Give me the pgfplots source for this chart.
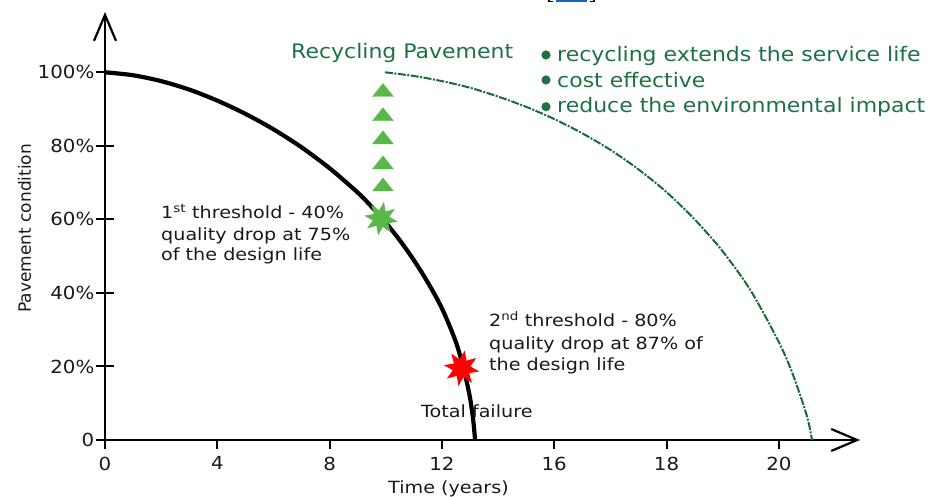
\documentclass[border=0pt]{standalone}
\usepackage{pgfplots}
\pgfplotsset{compat=1.18}
\usepackage{fontspec}
\setmainfont{DejaVu Sans}
\newfontfamily\fa{DejaVu Sans}[FakeStretch=1.14]
\newfontfamily\fb{DejaVu Sans}[FakeStretch=1.1]
\usetikzlibrary{arrows.meta}
\definecolor{dgreen}{HTML}{1B6A38}
\definecolor{tgreen}{HTML}{1E7145}
\definecolor{lgreen}{HTML}{5AB84B}
\definecolor{cblue}{HTML}{1565C0}
\pgfdeclareplotmark{star8}{%
 \pgfpathmoveto{\pgfpointpolar{80}{\pgfplotmarksize}}%
 \pgfpathlineto{\pgfpointpolar{102.5}{0.5\pgfplotmarksize}}%
 \pgfpathlineto{\pgfpointpolar{125}{\pgfplotmarksize}}%
 \pgfpathlineto{\pgfpointpolar{147.5}{0.5\pgfplotmarksize}}%
 \pgfpathlineto{\pgfpointpolar{170}{\pgfplotmarksize}}%
 \pgfpathlineto{\pgfpointpolar{192.5}{0.5\pgfplotmarksize}}%
 \pgfpathlineto{\pgfpointpolar{215}{\pgfplotmarksize}}%
 \pgfpathlineto{\pgfpointpolar{237.5}{0.5\pgfplotmarksize}}%
 \pgfpathlineto{\pgfpointpolar{260}{\pgfplotmarksize}}%
 \pgfpathlineto{\pgfpointpolar{282.5}{0.5\pgfplotmarksize}}%
 \pgfpathlineto{\pgfpointpolar{305}{\pgfplotmarksize}}%
 \pgfpathlineto{\pgfpointpolar{327.5}{0.5\pgfplotmarksize}}%
 \pgfpathlineto{\pgfpointpolar{350}{\pgfplotmarksize}}%
 \pgfpathlineto{\pgfpointpolar{12.5}{0.5\pgfplotmarksize}}%
 \pgfpathlineto{\pgfpointpolar{35}{\pgfplotmarksize}}%
 \pgfpathlineto{\pgfpointpolar{57.5}{0.5\pgfplotmarksize}}%
 \pgfpathclose\pgfusepathqfill}
\begin{document}
\begin{tikzpicture}[x=1pt,y=1pt]
\useasboundingbox (0,0) rectangle (934,497);
\begin{axis}[
  at={(105pt,57pt)}, anchor=south west,
  scale only axis, width=755pt, height=428pt,
  xmin=0, xmax=26.89, ymin=0, ymax=116.4,
  clip=false,
  axis lines=left,
  axis line style={line width=2.2pt, black},
  x axis line style={-{Straight Barb[length=26pt,width=22pt]}},
  y axis line style={-{Straight Barb[length=26pt,width=22pt]}},
  xtick={0,4,8,12,16,20,24},
  xticklabels={0,4,8,12,16,18,20},
  ytick={0,20,40,60,80,100},
  yticklabels={0,20\%,40\%,60\%,80\%,100\%},
  tick style={black, line width=2pt},
  xtick align=outside, ytick align=center,
  x tick style={/pgfplots/major tick length=9pt},
  y tick style={/pgfplots/major tick length=18pt},
  ticklabel style={font=\fb\fontsize{18}{21}\selectfont, text=black!90},
  xticklabel style={yshift=-9pt},
  yticklabel style={xshift=-5pt},
]
\addplot[black, line width=4.2pt, smooth] coordinates {
(0,100) (1,99.2) (2,97.6) (3,95.3) (4,92.3) (5,88.7) (6,84.5) (7,79.6)
(8,73.9) (9,67.3) (9.5,63.4) (10,59.1) (10.5,54.3) (11,48.9) (11.5,42.8)
(12,35.8) (12.5,26.6) (12.8,18.5) (13.0,11.5) (13.12,5.0) (13.18,0)};
\addplot[dgreen, line width=2pt, smooth, dash pattern=on 8pt off 1.5pt on 2pt off 1.5pt] coordinates {
(9.97,100) (11,99.0) (12,97.6) (13,95.8) (14,93.4) (15,90.6) (16,87.3)
(17,83.4) (18,78.9) (19,73.6) (20,67.4) (21,60.0) (22,51.3) (23,40.6)
(24,26.6) (24.5,17.8) (25,6.5) (25.18,0)};
\addplot[only marks, mark=triangle*, mark size=12pt, color=lgreen,
  mark options={yscale=0.72, draw=none, fill=lgreen}] coordinates {
(9.90,94.6) (9.90,88.0) (9.90,81.7) (9.90,74.9) (9.90,68.9)};
\addplot[only marks, mark=star8, mark size=17pt, color=lgreen] coordinates {(9.83,60.2)};
\addplot[only marks, mark=star8, mark size=18pt, color=red] coordinates {(12.70,19.5)};
\end{axis}
% annotations
\begin{scope}[every node/.style={inner sep=0pt, anchor=base west, text=black!90}]
\node[font=\fa\fontsize{16.8}{20}\selectfont] at (161,278) {1\textsuperscript{st} threshold - 40\%};
\node[font=\fa\fontsize{16.8}{20}\selectfont] at (161,256.5) {quality drop at 75\%};
\node[font=\fa\fontsize{16.8}{20}\selectfont] at (161,236.5) {of the design life};
\node[font=\fa\fontsize{16.8}{20}\selectfont] at (489,170) {2\textsuperscript{nd} threshold - 80\%};
\node[font=\fa\fontsize{16.8}{20}\selectfont] at (489,147.5) {quality drop at 87\% of};
\node[font=\fa\fontsize{16.8}{20}\selectfont] at (489,126.5) {the design life};
\node[font=\fa\fontsize{16.8}{20}\selectfont] at (421,79) {Total failure};
\node[font=\fa\fontsize{16.8}{20}\selectfont] at (388,3.6) {Time (years)};
\node[font=\fontsize{17}{20}\selectfont, rotate=90] at (31,184) {Pavement condition};
\node[font=\fb\fontsize{20}{24}\selectfont, text=tgreen] at (291,438) {Recycling Pavement};
\node[font=\fb\fontsize{20}{24}\selectfont, text=tgreen] at (557,435.3) {recycling extends the service life};
\node[font=\fb\fontsize{20}{24}\selectfont, text=tgreen] at (557,409.3) {cost effective};
\node[font=\fb\fontsize{20}{24}\selectfont, text=tgreen] at (557,384) {reduce the environmental impact};
\end{scope}
\fill[tgreen] (546,442) circle (4.6);
\fill[tgreen] (546,417) circle (4.6);
\fill[tgreen] (546,390.3) circle (4.6);
\draw[black, line width=1.3] (549,497.5)--(549,495.2)--(553,495.2);
\draw[black, line width=1.3] (590,495.2)--(594,495.2)--(594,497.5);
\draw[cblue, line width=2] (556,495.8)--(587,495.8);
\end{tikzpicture}
\end{document}
